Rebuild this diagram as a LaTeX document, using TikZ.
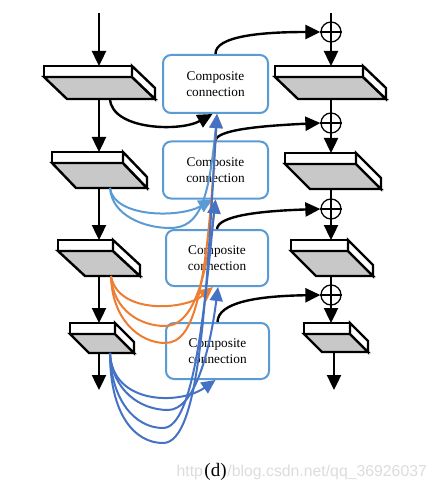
\documentclass[tikz,border=0pt]{standalone}
\usepackage{fontspec}
\setmainfont{Liberation Serif}
\newfontfamily\wmfont{Liberation Sans}
\usetikzlibrary{arrows.meta,calc}
\definecolor{lblue}{HTML}{5B9BD5}
\definecolor{dblue}{HTML}{4472C4}
\definecolor{orng}{HTML}{ED7D31}
\definecolor{slabgrey}{HTML}{C8C8C8}
\definecolor{wmgrey}{HTML}{DCDCDC}
\tikzset{
  slabline/.style={line width=2.4pt, line join=miter},
  flowarrow/.style={line width=2.4pt, -{Triangle[length=15pt,width=14pt]}},
  flowplain/.style={line width=2.4pt},
  blackcurve/.style={line width=2.4pt, -{Triangle[length=15pt,width=14pt]}},
  densecurve/.style={line width=2pt, -{Triangle[length=14pt,width=13pt]}},
  cbox/.style={draw=lblue, line width=2pt, rounded corners=8pt, fill=white,
    minimum width=105pt, minimum height=58pt, align=center,
    font=\fontsize{13.3}{15.5}\selectfont, inner sep=0pt},
  plusnode/.style={circle, draw, line width=1.3pt, minimum size=20pt, inner sep=0pt},
  pluscross/.style={line width=1.3pt},
  wmtext/.style={inner sep=0pt, text=wmgrey, font=\wmfont\fontsize{15.8}{18}\selectfont}
}
% x, y, width, depth-x, depth-y
\newcommand{\drawslab}[5]{%
  \draw[slabline, fill=white] (#1,#2) rectangle ++(#3,11);
  \draw[slabline, fill=slabgrey] (#1,#2+11) -- ++(#3,0) -- ++(#4,#5) -- ++(-#3,0) -- cycle;
  \draw[slabline, fill=white] (#1+#3,#2) -- ++(#4,#5) -- ++(0,11) -- ++(-#4,-#5) -- cycle;
}
\begin{document}
\begin{tikzpicture}[x=1pt,y=-1pt]
\useasboundingbox (0,0) rectangle (436,486);

% ---------- left column slabs ----------
\drawslab{44}{66}{88}{23}{22}
\drawslab{52}{152}{71}{24}{25}
\drawslab{58}{240}{55}{27}{25}
\drawslab{70}{323}{45}{19}{19}
% ---------- right column slabs ----------
\drawslab{275}{66}{88}{23}{22}
\drawslab{285}{153}{71}{25}{25}
\drawslab{291}{240}{57}{25}{25}
\drawslab{304}{323}{46}{18}{18}

% ---------- coordinates ----------
\coordinate (Lin) at (99,13);
\coordinate (L1t) at (99,66);  \coordinate (L1b) at (99,99);
\coordinate (L2t) at (99,152); \coordinate (L2b) at (99,188);
\coordinate (L3t) at (99,240); \coordinate (L3b) at (99,276);
\coordinate (L4t) at (99,323); \coordinate (L4b) at (99,353);
\coordinate (Lout) at (99,390);
\coordinate (L1s) at (110,99);
\coordinate (L2s) at (110,188);
\coordinate (L3s) at (111,276);
\coordinate (L4s) at (110,353);

\coordinate (Rin) at (331,13);
\coordinate (R1t) at (331,66);  \coordinate (R1b) at (331,99);
\coordinate (R2t) at (331,153); \coordinate (R2b) at (331,189);
\coordinate (R3t) at (331,240); \coordinate (R3b) at (331,276);
\coordinate (R4t) at (331,323); \coordinate (R4b) at (334,352);
\coordinate (Rout) at (334,390);

% ---------- plus nodes ----------
\node[plusnode] (p1) at (331,32) {};
\node[plusnode] (p2) at (331,123) {};
\node[plusnode] (p3) at (331,209) {};
\node[plusnode] (p4) at (331,295) {};
\foreach \p in {p1,p2,p3,p4}{
  \draw[pluscross] (\p.west) -- (\p.east) (\p.north) -- (\p.south);
}

% ---------- composite connection boxes ----------
\node[cbox] (c1) at (215.5,84) {Composite\\connection};
\node[cbox, minimum height=57pt] (c2) at (215.5,170) {Composite\\connection};
\node[cbox, minimum width=102pt, minimum height=56pt] (c3) at (217,258) {Composite\\connection};
\node[cbox, minimum width=103pt, minimum height=56pt] (c4) at (217.5,351) {Composite\\connection};

% ---------- left flow ----------
\draw[flowarrow] (Lin) -- (L1t);
\draw[flowarrow] (L1b) -- (L2t);
\draw[flowarrow] (L2b) -- (L3t);
\draw[flowarrow] (L3b) -- (L4t);
\draw[flowarrow] (L4b) -- (Lout);

% ---------- right flow ----------
\draw[flowplain] (Rin) -- (p1.north);
\draw[flowarrow] (p1.south) -- (R1t);
\draw[flowplain] (R1b) -- (p2.north);
\draw[flowarrow] (p2.south) -- (R2t);
\draw[flowplain] (R2b) -- (p3.north);
\draw[flowarrow] (p3.south) -- (R3t);
\draw[flowplain] (R3b) -- (p4.north);
\draw[flowarrow] (p4.south) -- (R4t);
\draw[flowarrow] (R4b) -- (Rout);

% ---------- box outputs to plus nodes ----------
\draw[blackcurve] (c1.north) .. controls (215,36) and (262,32) .. (p1.west);
\draw[blackcurve] (c2.north) .. controls (217,130) and (258,126) .. (p2.west);
\draw[blackcurve] (c3.north) .. controls (218,216) and (258,211) .. (p3.west);
\draw[blackcurve] (c4.north) .. controls (218,302) and (258,296) .. (p4.west);

% ---------- light blue (from slab 2) ----------
\draw[densecurve, lblue] (L2s) .. controls (114,218) and (180,218) .. ([xshift=-3pt]c2.south);
\draw[densecurve, lblue] (L2s) .. controls (112,216) and (145,228) .. (170,228)
   .. controls (200,228) and (209,200) .. ([xshift=1.5pt]c1.south);

% ---------- orange (from slab 3) ----------
\draw[densecurve, orng] (L3s) .. controls (118,315) and (185,310) .. ([xshift=-4pt]c3.south);
\draw[densecurve, orng] (L3s) .. controls (113,310) and (140,326) .. (165,326)
   .. controls (190,326) and (205,290) .. ([xshift=0pt]c2.south);
\draw[densecurve, orng] (L3s) .. controls (112,320) and (140,343) .. (165,343)
   .. controls (195,343) and (207,290) .. ([xshift=1.5pt]c1.south);

% ---------- dark blue (from slab 4) ----------
\draw[densecurve, dblue] (L4s) .. controls (112,405) and (180,405) .. ([xshift=-2pt]c4.south);
\draw[densecurve, dblue] (L4s) .. controls (112,390) and (140,410) .. (168,410)
   .. controls (195,410) and (210,350) .. ([xshift=1pt]c3.south);
\draw[densecurve, dblue] (L4s) .. controls (111,400) and (135,428) .. (163,428)
   .. controls (195,428) and (205,300) .. ([xshift=0pt]c2.south);
\draw[densecurve, dblue] (L4s) .. controls (110,415) and (135,443) .. (163,443)
   .. controls (200,443) and (206,300) .. ([xshift=1.5pt]c1.south);

% ---------- slab 1 to box 1 ----------
\draw[blackcurve] (L1s) .. controls (112,130) and (180,132) .. ([xshift=-3pt]c1.south);

% ---------- caption and watermark ----------
\node[anchor=base, inner sep=0pt, font=\fontsize{19}{22}\selectfont]
  (cap) at (215.5,476) {(d)};
\node[wmtext, anchor=base east] (wma) at ([xshift=-1pt]cap.base west) {http};
\node[wmtext, anchor=base west] (wmb) at ([xshift=0.5pt]cap.base east) {/blog.csdn.net/qq\_36926037};
\end{tikzpicture}
\end{document}
